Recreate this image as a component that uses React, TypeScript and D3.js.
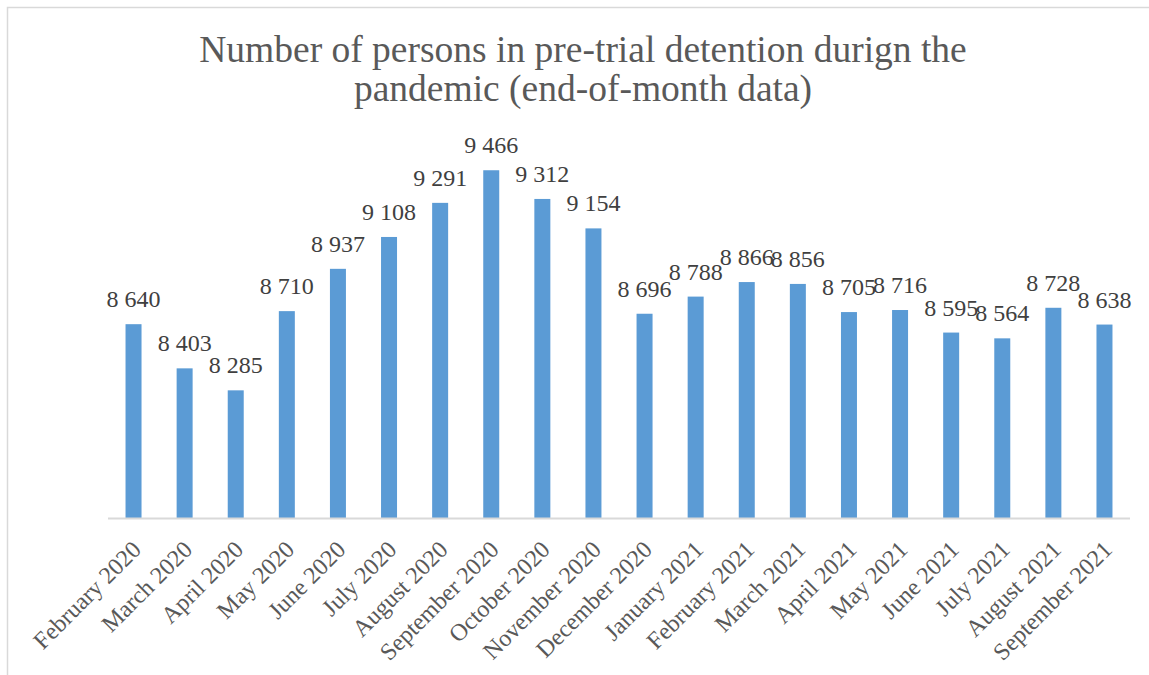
import React from 'react';
import { scaleBand, scaleLinear } from 'd3';

const months = [
  'February 2020', 'March 2020', 'April 2020', 'May 2020', 'June 2020', 'July 2020',
  'August 2020', 'September 2020', 'October 2020', 'November 2020', 'December 2020',
  'January 2021', 'February 2021', 'March 2021', 'April 2021', 'May 2021', 'June 2021',
  'July 2021', 'August 2021', 'September 2021',
];
const detained = [
  8640, 8403, 8285, 8710, 8937, 9108, 9291, 9466, 9312, 9154, 8696,
  8788, 8866, 8856, 8705, 8716, 8595, 8564, 8728, 8638,
];
const titleLines = ['Number of persons in pre-trial detention durign the', 'pandemic (end-of-month data)'];

const W = 1149;
const H = 675;
const margin = { top: 108, right: 19, bottom: 157, left: 108 };
const textColor = '#595959';
const font = '"Liberation Serif", "Times New Roman", serif';

const fmt = (v: number) => String(v).replace(/\B(?=(\d{3})+(?!\d))/g, ' ');

export default function App() {
  const x = scaleBand<string>()
    .domain(months)
    .range([margin.left, W - margin.right])
    .paddingInner(0.687)
    .paddingOuter(0.343);
  const y = scaleLinear()
    .domain([7600, 9800])
    .range([H - margin.bottom, margin.top]);
  const base = y(7600);

  return (
    <svg width={W} height={H} style={{ position: 'absolute', left: 0, top: 0, fontFamily: font }}>
      <rect x={0} y={0} width={W} height={H} fill="#fff" />
      <path d={`M${W},7.5H7.5V${H}`} fill="none" stroke="#d9d9d9" strokeWidth={1.5} />
      {titleLines.map((t, i) => (
        <text key={t} x={583} y={62 + i * 39} textAnchor="middle" fontSize={37.5} fill={textColor}>{t}</text>
      ))}
      <g fill="#5b9bd5">
        {months.map((m, i) => (
          <rect key={m} x={x(m)} y={y(detained[i])} width={x.bandwidth()} height={base - y(detained[i])} />
        ))}
      </g>
      <line x1={margin.left} x2={W - margin.right} y1={base + 0.5} y2={base + 0.5} stroke="#d9d9d9" strokeWidth={2} />
      <g fontSize={24} fill="#404040" textAnchor="middle">
        {months.map((m, i) => (
          <text key={m} x={(x(m) ?? 0) + x.bandwidth() / 2} y={y(detained[i]) - 17}>{fmt(detained[i])}</text>
        ))}
      </g>
      <g fontSize={24} fill={textColor} textAnchor="end">
        {months.map(m => {
          const cx = (x(m) ?? 0) + x.bandwidth() / 2;
          return (
            <text key={m} transform={`translate(${cx + 9},${base + 33}) rotate(-45)`}>{m}</text>
          );
        })}
      </g>
    </svg>
  );
}
